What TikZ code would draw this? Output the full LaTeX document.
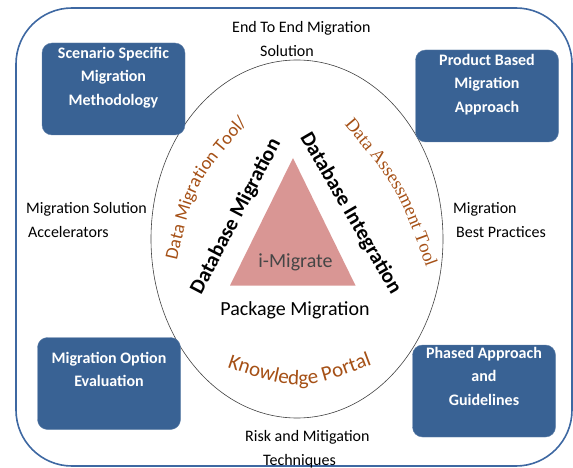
\documentclass[tikz,border=0pt]{standalone}
\usepackage{fontspec}
\setmainfont{Carlito}
\newfontfamily\serifo{Liberation Serif}
\usetikzlibrary{decorations.text,shapes.geometric}
\definecolor{boxblue}{RGB}{57,98,148}
\definecolor{outerblue}{RGB}{62,104,162}
\definecolor{pinktri}{RGB}{217,150,148}
\definecolor{orangec}{RGB}{165,80,22}
\definecolor{imgray}{RGB}{70,70,70}
\newcommand\orfont{\fontsize{18.5}{20}\selectfont\color{orangec}}
\newcommand\orfonts{\serifo\fontsize{18.5}{20}\selectfont\color{orangec}}
\newcommand\orfontb{\fontsize{21}{22}\selectfont\color{orangec}}
\tikzset{
  outerframe/.style={draw=outerblue, line width=1.6pt, rounded corners=56pt},
  bluebox/.style={fill=boxblue, draw=boxblue!80!white, rounded corners=10pt, minimum width=143pt, minimum height=92pt, inner sep=0pt},
  boxtxt/.style={text=white, font=\fontsize{16}{23.5}\selectfont\bfseries, align=center, inner sep=0pt},
  plaintxt/.style={text=black, font=\fontsize{16}{24}\selectfont, align=left, inner sep=0pt},
  bigbold/.style={text=black, font=\fontsize{21}{24}\selectfont\bfseries, inner sep=0pt},
  bigreg/.style={text=black, font=\fontsize{20}{24}\selectfont, inner sep=0pt},
}
\begin{document}
\begin{tikzpicture}[x=1pt,y=1pt]
\useasboundingbox (0,0) rectangle (573,-468);
% outer frame
\draw[outerframe] (16,-8) rectangle (572,-466);
% ellipse
\node[draw=black!75, line width=0.6pt, ellipse, inner sep=0pt, minimum width=292pt, minimum height=358pt] (ell) at (297,-239) {};
% triangle
\coordinate (ta) at (293,-158);
\coordinate (tl) at (230,-285.5);
\coordinate (tr) at (355.5,-285.5);
\fill[pinktri] (ta) -- (tl) -- (tr) -- cycle;
\node[text=imgray, font=\fontsize{20}{24}\selectfont, inner sep=0pt] (imig) at (295.5,-262) {i-Migrate};
% boxes
\node[bluebox] (b1) at (113.5,-89) {};
\node[boxtxt, anchor=north] (t1) at (113.5,-47) {Scenario Specific\\Migration\\Methodology};
\node[bluebox] (b2) at (487,-96) {};
\node[boxtxt, anchor=north] (t2) at (487,-54) {Product Based\\Migration\\Approach};
\node[bluebox] (b3) at (109,-383.5) {};
\node[boxtxt, anchor=north] (t3) at (109,-352) {Migration Option\\Evaluation};
\node[bluebox] (b4) at (484,-391) {};
\node[boxtxt, anchor=north] (t4) at (484,-347) {Phased Approach\\and\\Guidelines};
% outer texts
\node[plaintxt, anchor=north west] (top) at (232,-21) {End To End Migration\\\hspace*{28pt}Solution};
\node[plaintxt, anchor=north west] (lft) at (26,-202) {Migration Solution\\\hspace*{2pt}Accelerators};
\node[plaintxt, anchor=north west] (rgt) at (453,-202) {Migration\\\hspace*{3pt}Best Practices};
\node[plaintxt, anchor=north west] (bot) at (245,-430) {Risk and Mitigation\\\hspace*{18pt}Techniques};
% inner black texts
\node[bigbold, rotate=62.4] (dbm) at (236,-216.5) {Database Migration};
\node[bigbold, rotate=-59.8] (dbi) at (350.5,-213.5) {Database Integration};
\node[bigreg] (pkg) at (295,-310) {Package Migration};
% curved orange texts
\coordinate (dmS) at (176,-264);
\coordinate (dmC) at (195,-183);
\coordinate (dmE) at (250,-120);
\path[decorate, decoration={text along path, text align=center, text={|\orfont|Data Migration Tool/}}] (dmS) .. controls (dmC) .. (dmE);
\coordinate (daS) at (341,-120.5);
\coordinate (daC) at (398,-188.5);
\coordinate (daE) at (428,-272.5);
\path[decorate, decoration={text along path, text align=center, text={|\orfonts|Data Assessment Tool}}] (daS) .. controls (daC) .. (daE);
\coordinate (kpS) at (220,-365);
\coordinate (kpC) at (299,-392);
\coordinate (kpE) at (379,-362);
\path[decorate, decoration={text along path, text align=center, text={|\orfontb|Knowledge Portal}}] (kpS) .. controls (kpC) .. (kpE);
\end{tikzpicture}
\end{document}
